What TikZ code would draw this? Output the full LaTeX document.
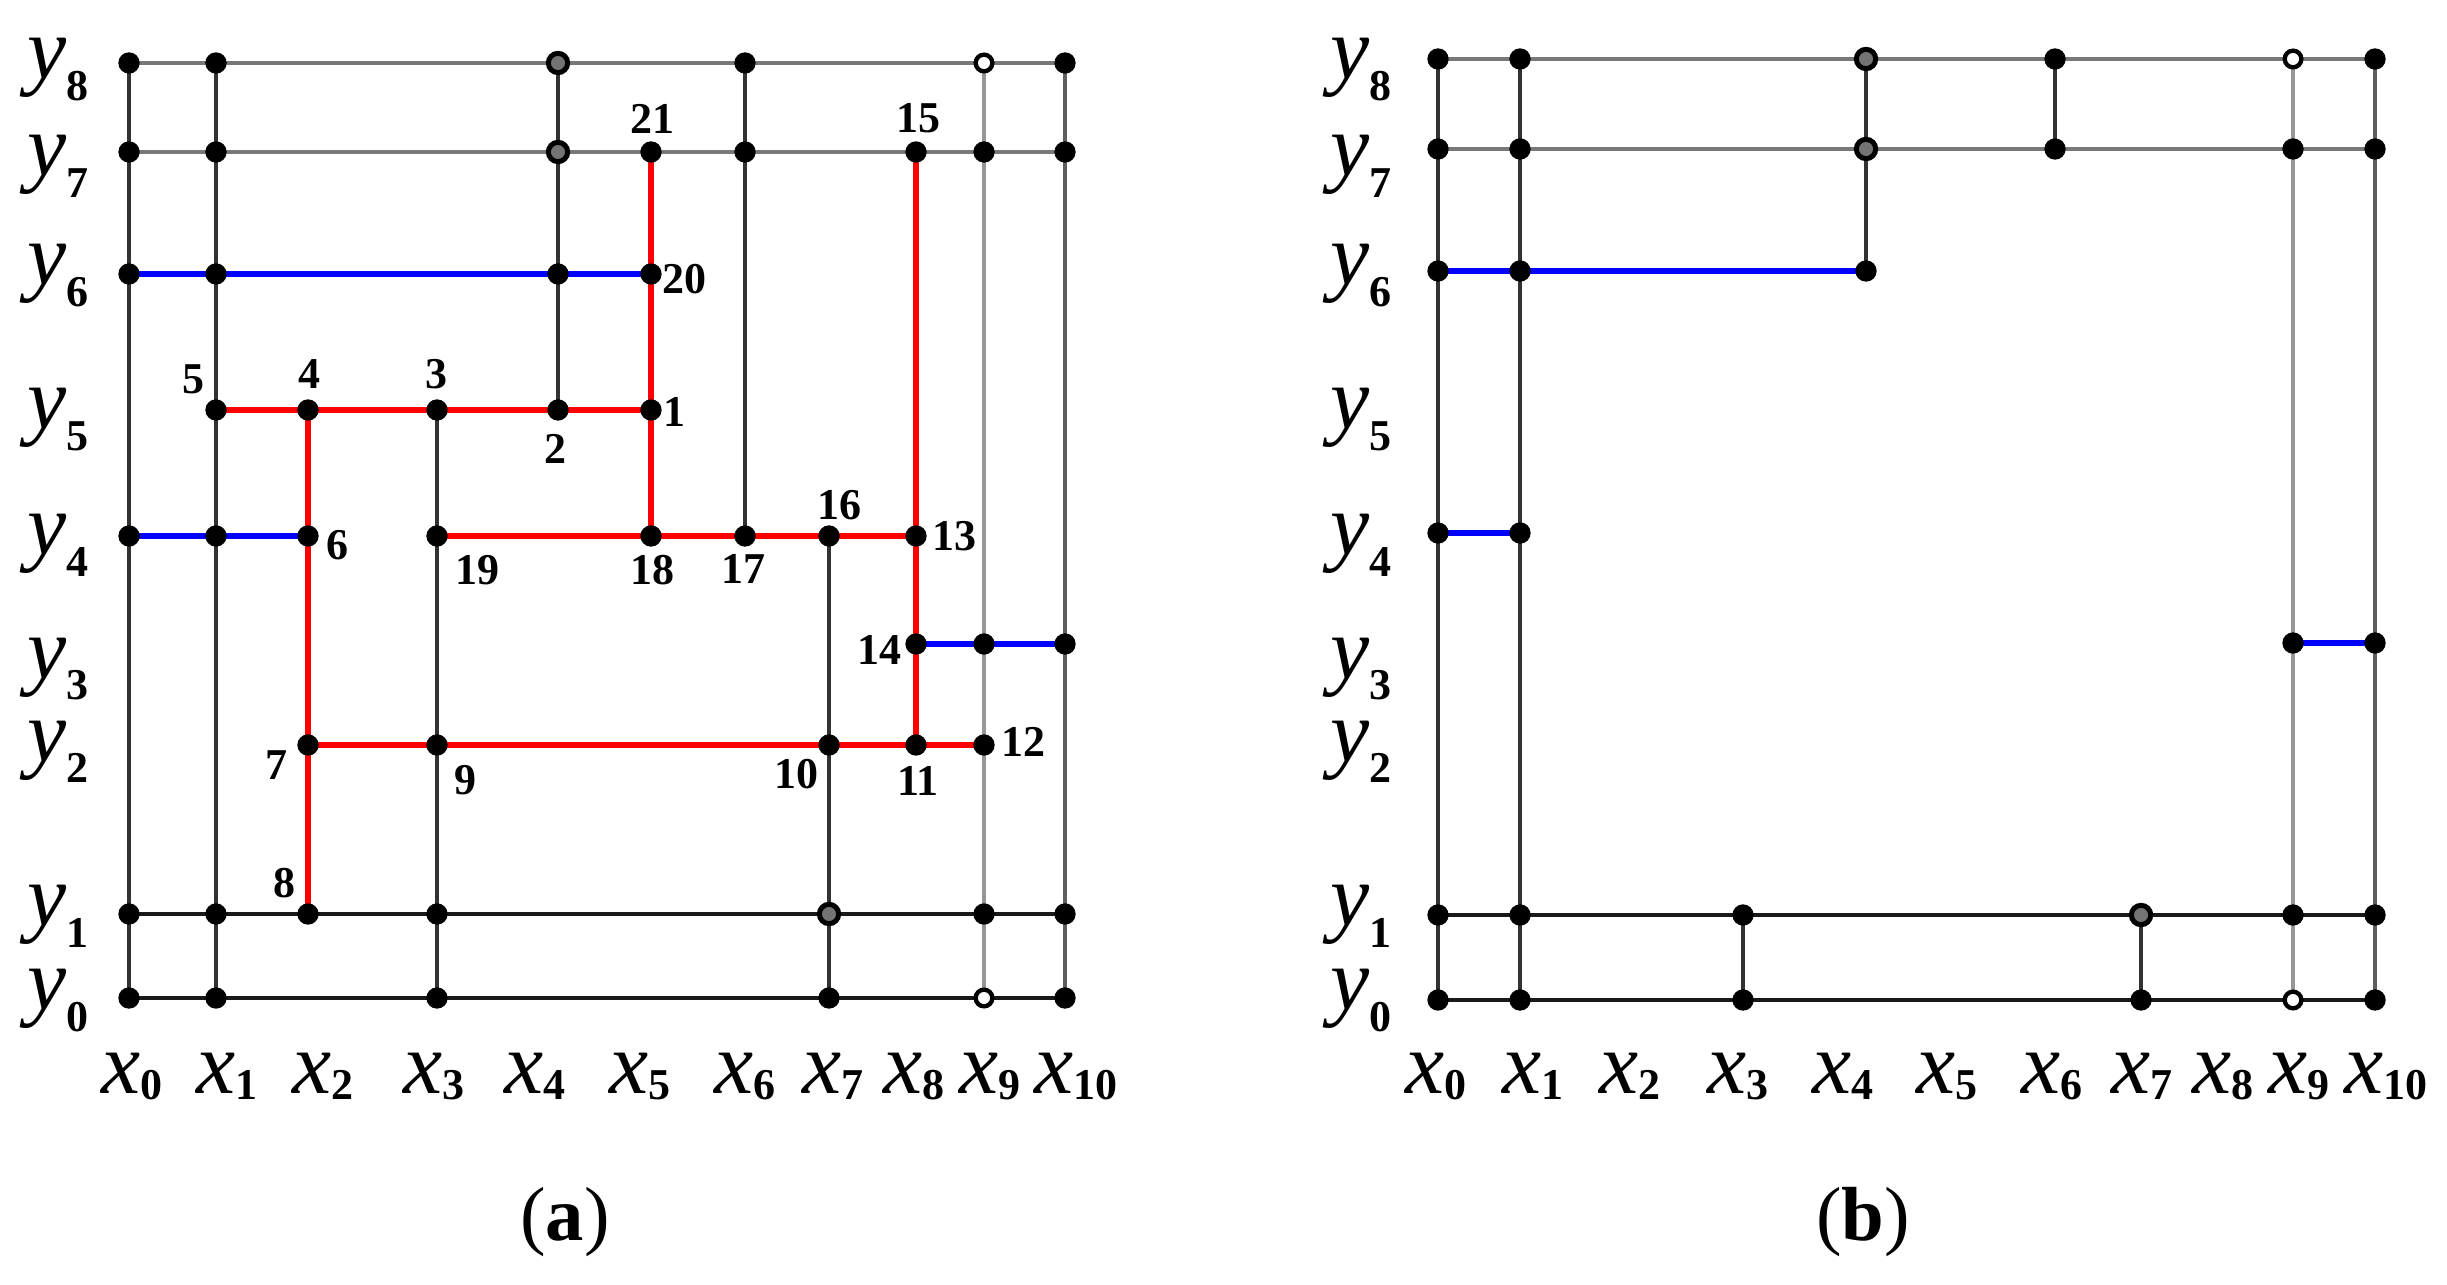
\documentclass[tikz,border=0pt]{standalone}
\usepackage{fontspec}
\setmainfont{Liberation Serif}
\definecolor{lnTop}{RGB}{120,120,120}
\definecolor{lnDark}{RGB}{50,50,50}
\definecolor{lnBot}{RGB}{25,25,25}
\definecolor{lnLight}{RGB}{150,150,150}
\definecolor{lnMid}{RGB}{95,95,95}
\definecolor{pathRed}{RGB}{255,0,0}
\definecolor{pathBlue}{RGB}{0,0,255}
\newcommand{\gl}[3]{{\fontsize{26.4}{26.4}\selectfont\itshape #1}\raisebox{#3}{\fontsize{13.2}{13.2}\selectfont\bfseries #2}}
\begin{document}
\begin{tikzpicture}[x=0.3pt,y=-0.3pt,
  dot/.style={circle,fill=black,inner sep=0pt,minimum size=6.4pt},
  hollow/.style={circle,fill=white,draw=black,line width=1.3pt,inner sep=0pt,minimum size=5pt},
  ring/.style={circle,fill=black!55,draw=black,line width=1.5pt,inner sep=0pt,minimum size=5.8pt},
  topln/.style={draw=lnTop,line width=1.25pt},
  darkln/.style={draw=lnDark,line width=1.25pt},
  botln/.style={draw=lnBot,line width=1.35pt},
  lightln/.style={draw=lnLight,line width=1.25pt},
  midln/.style={draw=lnMid,line width=1.25pt},
  redln/.style={draw=pathRed,line width=1.9pt},
  blueln/.style={draw=pathBlue,line width=1.9pt},
  numlab/.style={inner sep=0pt,font=\fontsize{13.2}{13.2}\selectfont\bfseries},
  xlab/.style={inner sep=0pt,anchor=base},
  ylab/.style={inner sep=0pt,anchor=base west},
  captext/.style={inner sep=0pt,font=\fontsize{23}{23}\selectfont}
]
\useasboundingbox[fill=white] (0,0) rectangle (2447,1285);

% grid coordinates, panel a
\foreach \i/\xx in {0/129,1/216,2/308,3/437,4/558,5/651,6/745,7/829,8/916,9/984,10/1065}
  \foreach \j/\yy in {0/998,1/914,2/745,3/644,4/536,5/410,6/274,7/152,8/63}
    \coordinate (a-\i-\j) at (\xx,\yy);
% grid coordinates, panel b
\foreach \i/\xx in {0/1438,1/1520,2/1616,3/1743,4/1866,5/1960,6/2055,7/2141,8/2225,9/2293,10/2375}
  \foreach \j/\yy in {0/1000,1/915,2/746,3/643,4/533,5/409,6/271,7/149,8/59}
    \coordinate (b-\i-\j) at (\xx,\yy);

% ---------------- panel a : lines ----------------
\draw[darkln] (a-0-8) -- (a-0-0);
\draw[darkln] (a-1-8) -- (a-1-0);
\draw[darkln] (a-3-5) -- (a-3-0);
\draw[darkln] (a-4-8) -- (a-4-5);
\draw[darkln] (a-6-8) -- (a-6-4);
\draw[darkln] (a-7-4) -- (a-7-0);
\draw[lightln] (a-9-8) -- (a-9-0);
\draw[midln] (a-10-8) -- (a-10-0);
\draw[topln] (a-0-8) -- (a-10-8);
\draw[topln] (a-0-7) -- (a-10-7);
\draw[botln] (a-0-1) -- (a-10-1);
\draw[botln] (a-0-0) -- (a-10-0);
\draw[blueln] (a-0-6) -- (a-5-6);
\draw[blueln] (a-0-4) -- (a-2-4);
\draw[blueln] (a-8-3) -- (a-10-3);
\draw[redln] (a-1-5) -- (a-5-5);
\draw[redln] (a-3-4) -- (a-8-4);
\draw[redln] (a-2-2) -- (a-9-2);
\draw[redln] (a-2-5) -- (a-2-1);
\draw[redln] (a-5-7) -- (a-5-4);
\draw[redln] (a-8-7) -- (a-8-2);

% ---------------- panel a : dots ----------------
\foreach \p in {0-8,1-8,6-8,10-8,
                0-7,1-7,5-7,6-7,8-7,9-7,10-7,
                0-6,1-6,4-6,5-6,
                1-5,2-5,3-5,4-5,5-5,
                0-4,1-4,2-4,3-4,5-4,6-4,7-4,8-4,
                8-3,9-3,10-3,
                2-2,3-2,7-2,8-2,9-2,
                0-1,1-1,2-1,3-1,9-1,10-1,
                0-0,1-0,3-0,7-0,10-0}
  \node[dot] (da-\p) at (a-\p) {};
\foreach \p in {4-8,4-7,7-1}
  \node[ring] (da-\p) at (a-\p) {};
\foreach \p in {9-8,9-0}
  \node[hollow] (da-\p) at (a-\p) {};

% ---------------- panel a : vertex numbers ----------------
\node[numlab] (n1)  at (674,412) {1};
\node[numlab] (n2)  at (555,449) {2};
\node[numlab] (n3)  at (436,374) {3};
\node[numlab] (n4)  at (309,374) {4};
\node[numlab] (n5)  at (193,379) {5};
\node[numlab] (n6)  at (337,545) {6};
\node[numlab] (n7)  at (276,765) {7};
\node[numlab] (n8)  at (284,883) {8};
\node[numlab] (n9)  at (465,780) {9};
\node[numlab] (n10) at (796,774) {10};
\node[numlab] (n11) at (918,781) {11};
\node[numlab] (n12) at (1023,742) {12};
\node[numlab] (n13) at (954,536) {13};
\node[numlab] (n14) at (879,650) {14};
\node[numlab] (n15) at (918,118) {15};
\node[numlab] (n16) at (839,505) {16};
\node[numlab] (n17) at (743,569) {17};
\node[numlab] (n18) at (652,570) {18};
\node[numlab] (n19) at (477,570) {19};
\node[numlab] (n20) at (684,279) {20};
\node[numlab] (n21) at (652,119) {21};

% ---------------- panel b : lines ----------------
\draw[darkln] (b-0-8) -- (b-0-0);
\draw[darkln] (b-1-8) -- (b-1-0);
\draw[darkln] (b-3-1) -- (b-3-0);
\draw[darkln] (b-4-8) -- (b-4-6);
\draw[darkln] (b-6-8) -- (b-6-7);
\draw[darkln] (b-7-1) -- (b-7-0);
\draw[lightln] (b-9-8) -- (b-9-0);
\draw[midln] (b-10-8) -- (b-10-0);
\draw[topln] (b-0-8) -- (b-10-8);
\draw[topln] (b-0-7) -- (b-10-7);
\draw[botln] (b-0-1) -- (b-10-1);
\draw[botln] (b-0-0) -- (b-10-0);
\draw[blueln] (b-0-6) -- (b-4-6);
\draw[blueln] (b-0-4) -- (b-1-4);
\draw[blueln] (b-9-3) -- (b-10-3);

% ---------------- panel b : dots ----------------
\foreach \p in {0-8,1-8,6-8,10-8,
                0-7,1-7,6-7,9-7,10-7,
                0-6,1-6,4-6,
                0-4,1-4,
                9-3,10-3,
                0-1,1-1,3-1,9-1,10-1,
                0-0,1-0,3-0,7-0,10-0}
  \node[dot] (db-\p) at (b-\p) {};
\foreach \p in {4-8,4-7,7-1}
  \node[ring] (db-\p) at (b-\p) {};
\foreach \p in {9-8,9-0}
  \node[hollow] (db-\p) at (b-\p) {};

% ---------------- axis labels ----------------
\foreach \k/\cx in {0/132,1/227,2/323,3/434,4/535,5/640,6/745,7/833,8/914,9/990,10/1076}
  \node[xlab] (xa\k) at (\cx,1093) {\gl{x}{\k}{-2pt}};
\foreach \k/\cx in {0/1436,1/1533,2/1630,3/1738,4/1843,5/1947,6/2052,7/2142,8/2223,9/2299,10/2386}
  \node[xlab] (xb\k) at (\cx,1093) {\gl{x}{\k}{-2pt}};
\foreach \k/\by in {8/79,7/176,6/285,5/429,4/555,3/678,2/761,1/925,0/1009}
  {\node[ylab] (ya\k) at (27,\by) {\gl{y}{\k}{-6.6pt}};
   \node[ylab] (yb\k) at (1330,\by) {\gl{y}{\k}{-6.6pt}};}

% ---------------- captions ----------------
\node[captext] (capa) at (565,1222) {(\textbf{a})};
\node[captext] (capb) at (1863,1222) {(\textbf{b})};
\end{tikzpicture}
\end{document}
